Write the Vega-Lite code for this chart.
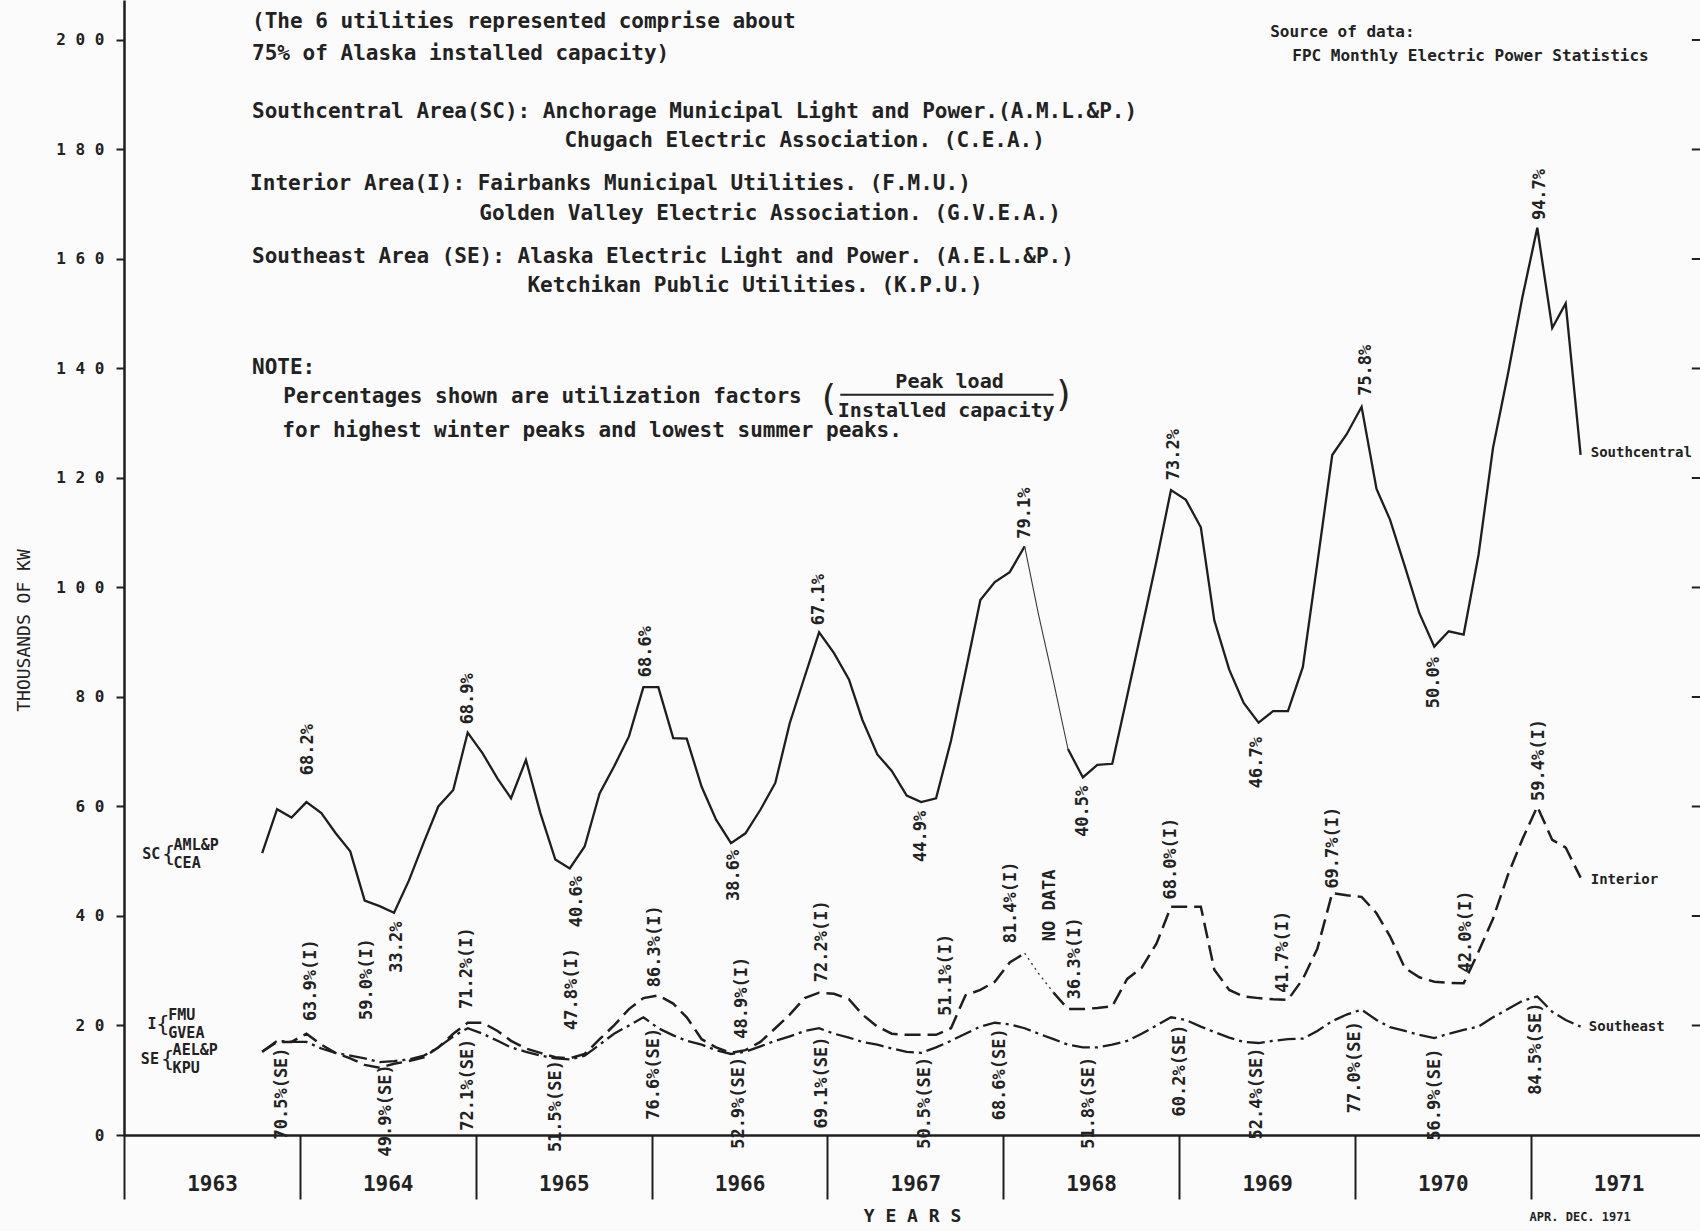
{
  "$schema": "https://vega.github.io/schema/vega-lite/v6.json",
  "width": 1576,
  "height": 1135,
  "autosize": {"type": "none"},
  "padding": {"left": 124, "top": 0, "right": 0, "bottom": 96},
  "background": "#fbfbfb",
  "config": {
    "view": {"stroke": null},
    "font": "DejaVu Sans Mono",
    "text": {"font": "DejaVu Sans Mono", "color": "#222222"}
  },
  "datasets": {
    "m": [
      {"d":"1963-10-15","sc":51.5,"i":15.2,"se":15.2},
      {"d":"1963-11-15","sc":59.5,"i":17.0,"se":17.2},
      {"d":"1963-12-15","sc":58.0,"i":17.0,"se":17.0},
      {"d":"1964-01-15","sc":60.8,"i":18.5,"se":17.0},
      {"d":"1964-02-15","sc":58.8,"i":16.5,"se":15.8},
      {"d":"1964-03-15","sc":55.2,"i":15.0,"se":15.0},
      {"d":"1964-04-15","sc":51.8,"i":14.0,"se":14.5},
      {"d":"1964-05-15","sc":42.8,"i":12.8,"se":14.0},
      {"d":"1964-06-15","sc":41.8,"i":12.3,"se":13.3},
      {"d":"1964-07-15","sc":40.6,"i":13.0,"se":13.5},
      {"d":"1964-08-15","sc":46.5,"i":13.5,"se":13.8},
      {"d":"1964-09-15","sc":53.5,"i":14.2,"se":14.5},
      {"d":"1964-10-15","sc":60.0,"i":16.0,"se":16.0},
      {"d":"1964-11-15","sc":63.0,"i":18.5,"se":18.0},
      {"d":"1964-12-15","sc":73.5,"i":20.5,"se":19.5},
      {"d":"1965-01-15","sc":69.7,"i":20.5,"se":18.5},
      {"d":"1965-02-15","sc":65.1,"i":19.0,"se":17.2},
      {"d":"1965-03-15","sc":61.5,"i":17.2,"se":16.0},
      {"d":"1965-04-15","sc":68.5,"i":15.8,"se":15.2},
      {"d":"1965-05-15","sc":58.8,"i":15.0,"se":14.5},
      {"d":"1965-06-15","sc":50.3,"i":14.2,"se":14.0},
      {"d":"1965-07-15","sc":48.7,"i":14.0,"se":13.8},
      {"d":"1965-08-15","sc":52.7,"i":14.8,"se":14.5},
      {"d":"1965-09-15","sc":62.4,"i":17.5,"se":16.5},
      {"d":"1965-10-15","sc":67.3,"i":20.0,"se":18.5},
      {"d":"1965-11-15","sc":72.8,"i":23.0,"se":20.0},
      {"d":"1965-12-15","sc":81.8,"i":25.0,"se":21.5},
      {"d":"1966-01-15","sc":81.8,"i":25.5,"se":19.5},
      {"d":"1966-02-15","sc":72.5,"i":24.0,"se":18.2},
      {"d":"1966-03-15","sc":72.4,"i":21.5,"se":17.2},
      {"d":"1966-04-15","sc":63.6,"i":17.5,"se":16.5},
      {"d":"1966-05-15","sc":57.6,"i":16.0,"se":15.5},
      {"d":"1966-06-15","sc":53.3,"i":15.0,"se":14.8},
      {"d":"1966-07-15","sc":55.1,"i":15.5,"se":15.2},
      {"d":"1966-08-15","sc":59.4,"i":17.0,"se":16.2},
      {"d":"1966-09-15","sc":64.3,"i":19.5,"se":17.2},
      {"d":"1966-10-15","sc":75.2,"i":22.0,"se":18.0},
      {"d":"1966-11-15","sc":83.7,"i":25.0,"se":19.0},
      {"d":"1966-12-15","sc":91.8,"i":26.0,"se":19.5},
      {"d":"1967-01-15","sc":88.0,"i":25.8,"se":18.5},
      {"d":"1967-02-15","sc":83.2,"i":24.8,"se":17.8},
      {"d":"1967-03-15","sc":75.8,"i":22.0,"se":17.0},
      {"d":"1967-04-15","sc":69.5,"i":19.8,"se":16.5},
      {"d":"1967-05-15","sc":66.5,"i":18.5,"se":15.8},
      {"d":"1967-06-15","sc":62.0,"i":18.3,"se":15.2},
      {"d":"1967-07-15","sc":60.8,"i":18.3,"se":15.0},
      {"d":"1967-08-15","sc":61.5,"i":18.3,"se":16.0},
      {"d":"1967-09-15","sc":72.0,"i":19.5,"se":17.2},
      {"d":"1967-10-15","sc":84.5,"i":25.5,"se":18.5},
      {"d":"1967-11-15","sc":97.7,"i":26.5,"se":19.8},
      {"d":"1967-12-15","sc":101.0,"i":28.0,"se":20.5},
      {"d":"1968-01-15","sc":102.8,"i":31.5,"se":20.2},
      {"d":"1968-02-15","sc":107.5,"scnd":107.5,"i":33.2,"ind":33.2,"se":19.5},
      {"d":"1968-03-15","sc":null,"scnd":95.0,"i":null,"ind":29.5,"se":18.5},
      {"d":"1968-04-15","sc":null,"scnd":82.8,"i":26.0,"ind":26.0,"se":17.5},
      {"d":"1968-05-15","sc":70.5,"scnd":70.5,"i":23.0,"se":16.5},
      {"d":"1968-06-15","sc":65.3,"i":23.0,"se":16.0},
      {"d":"1968-07-15","sc":67.6,"i":23.2,"se":16.0},
      {"d":"1968-08-15","sc":67.8,"i":23.5,"se":16.5},
      {"d":"1968-09-15","sc":80.2,"i":28.5,"se":17.2},
      {"d":"1968-10-15","sc":92.3,"i":30.5,"se":18.5},
      {"d":"1968-11-15","sc":104.9,"i":35.0,"se":20.0},
      {"d":"1968-12-15","sc":117.8,"i":41.7,"se":21.5},
      {"d":"1969-01-15","sc":116.0,"i":41.7,"se":21.0},
      {"d":"1969-02-15","sc":111.0,"i":41.7,"se":19.8},
      {"d":"1969-03-15","sc":94.0,"i":30.2,"se":18.8},
      {"d":"1969-04-15","sc":85.0,"i":26.5,"se":17.8},
      {"d":"1969-05-15","sc":78.9,"i":25.3,"se":17.0},
      {"d":"1969-06-15","sc":75.3,"i":25.0,"se":16.8},
      {"d":"1969-07-15","sc":77.4,"i":24.8,"se":17.2},
      {"d":"1969-08-15","sc":77.4,"i":24.7,"se":17.5},
      {"d":"1969-09-15","sc":85.5,"i":28.5,"se":17.6},
      {"d":"1969-10-15","sc":104.4,"i":34.0,"se":19.0},
      {"d":"1969-11-15","sc":124.2,"i":44.2,"se":20.8},
      {"d":"1969-12-15","sc":128.0,"i":43.8,"se":22.0},
      {"d":"1970-01-15","sc":133.0,"i":43.5,"se":22.9},
      {"d":"1970-02-15","sc":118.0,"i":40.5,"se":21.0},
      {"d":"1970-03-15","sc":112.4,"i":36.3,"se":19.7},
      {"d":"1970-04-15","sc":103.8,"i":30.5,"se":19.0},
      {"d":"1970-05-15","sc":95.3,"i":28.8,"se":18.3},
      {"d":"1970-06-15","sc":89.2,"i":28.0,"se":17.7},
      {"d":"1970-07-15","sc":92.0,"i":27.8,"se":18.5},
      {"d":"1970-08-15","sc":91.4,"i":27.7,"se":19.2},
      {"d":"1970-09-15","sc":106.0,"i":33.5,"se":19.8},
      {"d":"1970-10-15","sc":125.5,"i":39.5,"se":21.5},
      {"d":"1970-11-15","sc":139.0,"i":47.5,"se":23.0},
      {"d":"1970-12-15","sc":153.0,"i":54.0,"se":24.5},
      {"d":"1971-01-15","sc":165.7,"i":60.0,"se":25.3},
      {"d":"1971-02-15","sc":147.4,"i":53.9,"se":22.5},
      {"d":"1971-03-15","sc":151.9,"i":52.5,"se":21.0},
      {"d":"1971-04-15","sc":124.2,"i":47.0,"se":19.8}
    ],
    "r": [
      {"d":"1967-01-28","d2":"1968-04-15","v":135.2},
      {"d":"1971-12-02","d2":"1971-12-19","v":20},
      {"d":"1971-12-02","d2":"1971-12-19","v":40},
      {"d":"1971-12-02","d2":"1971-12-19","v":60},
      {"d":"1971-12-02","d2":"1971-12-19","v":80},
      {"d":"1971-12-02","d2":"1971-12-19","v":100},
      {"d":"1971-12-02","d2":"1971-12-19","v":120},
      {"d":"1971-12-02","d2":"1971-12-19","v":140},
      {"d":"1971-12-02","d2":"1971-12-19","v":160},
      {"d":"1971-12-02","d2":"1971-12-19","v":180},
      {"d":"1971-12-02","d2":"1971-12-19","v":200}
    ],
    "a": [
      {"d":"1963-09-24","v":203.2,"t":"(The 6 utilities represented comprise about","k":"block"},
      {"d":"1963-09-24","v":197.4,"t":"75% of Alaska installed capacity)","k":"block"},
      {"d":"1963-09-24","v":186.9,"t":"Southcentral Area(SC): Anchorage Municipal Light and Power.(A.M.L.&P.)","k":"block"},
      {"d":"1965-07-04","v":181.6,"t":"Chugach Electric Association. (C.E.A.)","k":"block"},
      {"d":"1963-09-20","v":173.7,"t":"Interior Area(I): Fairbanks Municipal Utilities. (F.M.U.)","k":"block"},
      {"d":"1965-01-08","v":168.3,"t":"Golden Valley Electric Association. (G.V.E.A.)","k":"block"},
      {"d":"1963-09-24","v":160.4,"t":"Southeast Area (SE): Alaska Electric Light and Power. (A.E.L.&P.)","k":"block"},
      {"d":"1965-04-18","v":155.0,"t":"Ketchikan Public Utilities. (K.P.U.)","k":"block"},
      {"d":"1963-09-24","v":140.0,"t":"NOTE:","k":"block"},
      {"d":"1963-11-28","v":134.7,"t":"Percentages shown are utilization factors","k":"block"},
      {"d":"1963-11-26","v":128.5,"t":"for highest winter peaks and lowest summer peaks.","k":"block"},
      {"d":"1967-09-12","v":137.6,"t":"Peak load","k":"frac"},
      {"d":"1967-09-05","v":132.3,"t":"Installed capacity","k":"frac"},
      {"d":"1967-01-03","v":134.5,"t":"(","k":"big"},
      {"d":"1968-05-07","v":135.2,"t":")","k":"big"},
      {"d":"1969-07-09","v":201.4,"t":"Source of data:","k":"src"},
      {"d":"1969-08-24","v":197.0,"t":"FPC Monthly Electric Power Statistics","k":"src"},
      {"d":"1971-05-06","v":124.6,"t":"Southcentral","k":"ser"},
      {"d":"1971-05-06","v":46.5,"t":"Interior","k":"ser"},
      {"d":"1971-05-02","v":19.8,"t":"Southeast","k":"ser"},
      {"d":"1963-02-08","v":51.3,"t":"SC","k":"grp"},
      {"d":"1963-04-14","v":52.9,"t":"AML&P","k":"grp"},
      {"d":"1963-04-14","v":49.7,"t":"CEA","k":"grp"},
      {"d":"1963-02-19","v":20.3,"t":"I","k":"grp"},
      {"d":"1963-04-03","v":22.0,"t":"FMU","k":"grp"},
      {"d":"1963-04-03","v":18.6,"t":"GVEA","k":"grp"},
      {"d":"1963-02-05","v":13.9,"t":"SE","k":"grp"},
      {"d":"1963-04-12","v":15.6,"t":"AEL&P","k":"grp"},
      {"d":"1963-04-12","v":12.3,"t":"KPU","k":"grp"},
      {"d":"1963-03-21","v":51.3,"t":"{","k":"brace"},
      {"d":"1963-03-09","v":20.3,"t":"{","k":"brace"},
      {"d":"1963-03-19","v":13.9,"t":"{","k":"brace"},
      {"d":"1971-04-14","v":-14.9,"t":"APR.  DEC. 1971","k":"apr"},
      {"d":"1964-01-19","v":65.7,"t":"68.2%","k":"up"},
      {"d":"1964-12-16","v":75.0,"t":"68.9%","k":"up"},
      {"d":"1965-12-20","v":83.6,"t":"68.6%","k":"up"},
      {"d":"1966-12-15","v":93.1,"t":"67.1%","k":"up"},
      {"d":"1968-02-15","v":108.9,"t":"79.1%","k":"up"},
      {"d":"1968-12-22","v":119.6,"t":"73.2%","k":"up"},
      {"d":"1970-01-25","v":135.0,"t":"75.8%","k":"up"},
      {"d":"1971-01-20","v":167.1,"t":"94.7%","k":"up"},
      {"d":"1964-01-24","v":20.8,"t":"63.9%(I)","k":"up"},
      {"d":"1964-05-20","v":21.0,"t":"59.0%(I)","k":"up"},
      {"d":"1964-12-14","v":23.0,"t":"71.2%(I)","k":"up"},
      {"d":"1965-07-19","v":19.2,"t":"47.8%(I)","k":"up"},
      {"d":"1966-01-08","v":27.0,"t":"86.3%(I)","k":"up"},
      {"d":"1966-07-08","v":17.6,"t":"48.9%(I)","k":"up"},
      {"d":"1966-12-20","v":27.9,"t":"72.2%(I)","k":"up"},
      {"d":"1967-09-05","v":21.8,"t":"51.1%(I)","k":"up"},
      {"d":"1968-01-18","v":35.0,"t":"81.4%(I)","k":"up"},
      {"d":"1968-04-08","v":35.4,"t":"NO DATA","k":"up"},
      {"d":"1968-05-29","v":24.8,"t":"36.3%(I)","k":"up"},
      {"d":"1968-12-15","v":43.0,"t":"68.0%(I)","k":"up"},
      {"d":"1969-08-04","v":26.0,"t":"41.7%(I)","k":"up"},
      {"d":"1969-11-16","v":45.0,"t":"69.7%(I)","k":"up"},
      {"d":"1970-08-19","v":29.7,"t":"42.0%(I)","k":"up"},
      {"d":"1971-01-18","v":61.0,"t":"59.4%(I)","k":"up"},
      {"d":"1964-07-21","v":39.0,"t":"33.2%","k":"down"},
      {"d":"1965-07-30","v":47.3,"t":"40.6%","k":"down"},
      {"d":"1966-06-22","v":52.1,"t":"38.6%","k":"down"},
      {"d":"1967-07-14","v":59.2,"t":"44.9%","k":"down"},
      {"d":"1968-06-15","v":63.8,"t":"40.5%","k":"down"},
      {"d":"1969-06-12","v":72.7,"t":"46.7%","k":"down"},
      {"d":"1970-06-14","v":87.3,"t":"50.0%","k":"down"},
      {"d":"1963-11-26","v":16.0,"t":"70.5%(SE)","k":"down"},
      {"d":"1964-06-29","v":12.9,"t":"49.9%(SE)","k":"down"},
      {"d":"1964-12-16","v":17.6,"t":"72.1%(SE)","k":"down"},
      {"d":"1965-06-16","v":13.7,"t":"51.5%(SE)","k":"down"},
      {"d":"1966-01-06","v":19.6,"t":"76.6%(SE)","k":"down"},
      {"d":"1966-07-01","v":14.3,"t":"52.9%(SE)","k":"down"},
      {"d":"1966-12-20","v":18.0,"t":"69.1%(SE)","k":"down"},
      {"d":"1967-07-23","v":14.3,"t":"50.5%(SE)","k":"down"},
      {"d":"1967-12-26","v":19.5,"t":"68.6%(SE)","k":"down"},
      {"d":"1968-06-28","v":14.3,"t":"51.8%(SE)","k":"down"},
      {"d":"1969-01-03","v":20.2,"t":"60.2%(SE)","k":"down"},
      {"d":"1969-06-12","v":16.0,"t":"52.4%(SE)","k":"down"},
      {"d":"1970-01-02","v":20.8,"t":"77.0%(SE)","k":"down"},
      {"d":"1970-06-17","v":15.8,"t":"56.9%(SE)","k":"down"},
      {"d":"1971-01-13","v":24.2,"t":"84.5%(SE)","k":"down"}
    ]
  },
  "encoding": {
    "x": {
      "field": "d", "type": "temporal",
      "scale": {"domain": [{"year":1963,"month":1,"date":1},{"year":1971,"month":12,"date":19}], "nice": false},
      "axis": {
        "values": [{"year":1963,"month":1,"date":1},{"year":1964,"month":1,"date":1},{"year":1965,"month":1,"date":1},{"year":1966,"month":1,"date":1},{"year":1967,"month":1,"date":1},{"year":1968,"month":1,"date":1},{"year":1969,"month":1,"date":1},{"year":1970,"month":1,"date":1},{"year":1971,"month":1,"date":1}],
        "format": "%Y",
        "labelOffset": 88,
        "labelFlush": false,
        "labelOverlap": false,
        "tickSize": 64,
        "tickWidth": 2,
        "tickColor": "#1e1e1e",
        "domainWidth": 2.5,
        "domainColor": "#1e1e1e",
        "labelPadding": -26,
        "labelFont": "DejaVu Sans Mono",
        "labelFontSize": 21,
        "labelFontWeight": "bold",
        "labelColor": "#222222",
        "grid": false,
        "title": "Y E A R S",
        "titleFont": "DejaVu Sans Mono",
        "titleFontSize": 18,
        "titleFontWeight": "bold",
        "titleColor": "#222222",
        "titleY": 81,
        "titleBaseline": "middle"
      }
    },
    "y": {
      "field": "v", "type": "quantitative",
      "scale": {"domain": [0, 207.3], "nice": false},
      "axis": {
        "values": [0, 20, 40, 60, 80, 100, 120, 140, 160, 180, 200],
        "labelExpr": "join(split(datum.label, ''), ' ')",
        "labelFont": "DejaVu Sans Mono",
        "labelFontSize": 16,
        "labelFontWeight": "bold",
        "labelColor": "#222222",
        "tickSize": 8,
        "tickWidth": 2,
        "tickColor": "#1e1e1e",
        "labelPadding": 12,
        "domainWidth": 2.5,
        "domainColor": "#1e1e1e",
        "grid": false,
        "title": "THOUSANDS OF KW",
        "titleFont": "DejaVu Sans Mono",
        "titleFontSize": 18,
        "titleFontWeight": "normal",
        "titleColor": "#222222",
        "titleX": -100,
        "titleY": 630,
        "titleAngle": 270,
        "titleAlign": "center",
        "titleBaseline": "middle"
      }
    }
  },
  "layer": [
    {
      "data": {"name": "m"},
      "transform": [{"fold": ["sc"], "as": ["s", "v"]}],
      "mark": {"type": "line", "color": "#1e1e1e", "strokeWidth": 2.3}
    },
    {
      "data": {"name": "m"},
      "transform": [{"fold": ["scnd"], "as": ["s", "v"]}],
      "mark": {"type": "line", "color": "#3a3a3a", "strokeWidth": 1.1}
    },
    {
      "data": {"name": "m"},
      "transform": [{"fold": ["i"], "as": ["s", "v"]}],
      "mark": {"type": "line", "color": "#1e1e1e", "strokeWidth": 2.5, "strokeDash": [16, 7]}
    },
    {
      "data": {"name": "m"},
      "transform": [{"fold": ["ind"], "as": ["s", "v"]}],
      "mark": {"type": "line", "color": "#3a3a3a", "strokeWidth": 1.4, "strokeDash": [2, 4]}
    },
    {
      "data": {"name": "m"},
      "transform": [{"fold": ["se"], "as": ["s", "v"]}],
      "mark": {"type": "line", "color": "#1e1e1e", "strokeWidth": 2.3, "strokeDash": [18, 5, 3, 5]}
    },
    {
      "data": {"name": "r"},
      "mark": {"type": "rule", "color": "#222222", "strokeWidth": 2},
      "encoding": {"x2": {"field": "d2"}}
    },
    {
      "data": {"name": "a"},
      "transform": [{"filter": {"field": "k", "equal": "block"}}],
      "mark": {"type": "text", "align": "left", "baseline": "middle", "fontSize": 21, "fontWeight": "bold", "font": "DejaVu Sans Mono", "color": "#222222"},
      "encoding": {"text": {"field": "t"}}
    },
    {
      "data": {"name": "a"},
      "transform": [{"filter": {"field": "k", "equal": "frac"}}],
      "mark": {"type": "text", "align": "center", "baseline": "middle", "fontSize": 20, "fontWeight": "bold", "font": "DejaVu Sans Mono", "color": "#222222"},
      "encoding": {"text": {"field": "t"}}
    },
    {
      "data": {"name": "a"},
      "transform": [{"filter": {"field": "k", "equal": "big"}}],
      "mark": {"type": "text", "align": "center", "baseline": "middle", "fontSize": 36, "font": "DejaVu Sans Mono", "color": "#222222"},
      "encoding": {"text": {"field": "t"}}
    },
    {
      "data": {"name": "a"},
      "transform": [{"filter": {"field": "k", "equal": "src"}}],
      "mark": {"type": "text", "align": "left", "baseline": "middle", "fontSize": 16, "fontWeight": "bold", "font": "DejaVu Sans Mono", "color": "#222222"},
      "encoding": {"text": {"field": "t"}}
    },
    {
      "data": {"name": "a"},
      "transform": [{"filter": {"field": "k", "equal": "ser"}}],
      "mark": {"type": "text", "align": "left", "baseline": "middle", "fontSize": 14, "fontWeight": "bold", "font": "DejaVu Sans Mono", "color": "#222222"},
      "encoding": {"text": {"field": "t"}}
    },
    {
      "data": {"name": "a"},
      "transform": [{"filter": {"field": "k", "equal": "grp"}}],
      "mark": {"type": "text", "align": "left", "baseline": "middle", "fontSize": 15, "fontWeight": "bold", "font": "DejaVu Sans Mono", "color": "#222222"},
      "encoding": {"text": {"field": "t"}}
    },
    {
      "data": {"name": "a"},
      "transform": [{"filter": {"field": "k", "equal": "brace"}}],
      "mark": {"type": "text", "align": "left", "baseline": "middle", "fontSize": 22, "font": "DejaVu Sans Mono", "color": "#222222"},
      "encoding": {"text": {"field": "t"}}
    },
    {
      "data": {"name": "a"},
      "transform": [{"filter": {"field": "k", "equal": "apr"}}],
      "mark": {"type": "text", "align": "center", "baseline": "middle", "fontSize": 12, "fontWeight": "bold", "font": "DejaVu Sans Mono", "color": "#222222"},
      "encoding": {"text": {"field": "t"}}
    },
    {
      "data": {"name": "a"},
      "transform": [{"filter": {"field": "k", "equal": "up"}}],
      "mark": {"type": "text", "angle": 270, "align": "left", "baseline": "middle", "fontSize": 17, "fontWeight": "bold", "font": "DejaVu Sans Mono", "color": "#222222"},
      "encoding": {"text": {"field": "t"}}
    },
    {
      "data": {"name": "a"},
      "transform": [{"filter": {"field": "k", "equal": "down"}}],
      "mark": {"type": "text", "angle": 270, "align": "right", "baseline": "middle", "fontSize": 17, "fontWeight": "bold", "font": "DejaVu Sans Mono", "color": "#222222"},
      "encoding": {"text": {"field": "t"}}
    }
  ]
}
